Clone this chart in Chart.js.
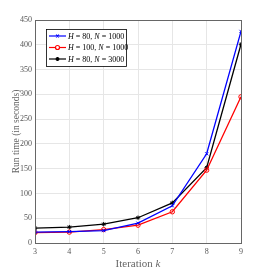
<!DOCTYPE html>
<html>
<head>
<meta charset="utf-8">
<script src="https://cdn.jsdelivr.net/npm/chart.js@4"></script>
<style>
  html, body { margin: 0; padding: 0; background: #fff; }
  #wrap { width: 266px; height: 273px; }
</style>
</head>
<body>
<div id="wrap"><canvas id="runtime-chart" width="266" height="273"></canvas></div>
<script>
// data //
const iterations = [3, 4, 5, 6, 7, 8, 9];
const runH80N1000 = [22, 23, 25, 40, 75, 180, 427];
const runH100N1000 = [21, 22, 27, 36, 63, 147, 295];
const runH80N3000 = [30, 32, 38, 51, 81, 152, 401];
const yTicks = [0, 50, 100, 150, 200, 250, 300, 350, 400, 450];

const seriesNames = [['H', ' = 80, ', 'N', ' = 1000'], ['H', ' = 100, ', 'N', ' = 1000'], ['H', ' = 80, ', 'N', ' = 3000']];
const seriesColors = ['#0000ff', '#ff0000', '#000000'];
const seriesMarkers = ['crossRot', 'circle', 'star'];

const serif = "'Liberation Serif', 'DejaVu Serif', serif";

function toPoints(values) {
  return values.map((v, i) => ({ x: iterations[i], y: v }));
}

// legend drawn inside the plot, with italic H and N
const boxLegend = {
  id: 'boxLegend',
  afterDraw(chart) {
    const ctx = chart.ctx;
    const x0 = 46, y0 = 29, w = 80, h = 37;
    ctx.save();
    ctx.fillStyle = '#fff';
    ctx.fillRect(x0, y0, w, h);
    ctx.strokeStyle = '#000';
    ctx.lineWidth = 0.8;
    ctx.strokeRect(x0 + 0.5, y0 + 0.5, w, h);
    seriesNames.forEach((parts, i) => {
      const y = y0 + 7 + i * 11.5;
      ctx.strokeStyle = seriesColors[i];
      ctx.lineWidth = 1.2;
      ctx.beginPath();
      ctx.moveTo(x0 + 3, y);
      ctx.lineTo(x0 + 20, y);
      ctx.stroke();
      ctx.fillStyle = i === 1 ? '#fff' : seriesColors[i];
      Chart.helpers.drawPoint(ctx, { pointStyle: seriesMarkers[i], radius: 2, borderWidth: 1 }, x0 + 11.5, y);
      let tx = x0 + 22;
      ctx.fillStyle = '#000';
      ctx.textBaseline = 'middle';
      parts.forEach((p, j) => {
        ctx.font = (j % 2 === 0 ? 'italic ' : '') + '8px ' + serif;
        ctx.fillText(p, tx, y + 0.5);
        tx += ctx.measureText(p).width;
      });
    });
    ctx.restore();
  }
};

// box border + axis titles
const frameAndTitles = {
  id: 'frameAndTitles',
  afterDraw(chart) {
    const ctx = chart.ctx;
    const a = chart.chartArea;
    ctx.save();
    ctx.strokeStyle = '#666';
    ctx.lineWidth = 1;
    ctx.strokeRect(Math.round(a.left) + 0.5, Math.round(a.top) + 0.5, Math.round(a.right - a.left), Math.round(a.bottom - a.top));
    ctx.fillStyle = '#666';
    ctx.textBaseline = 'middle';
    const t1 = 'Iteration ';
    ctx.font = 'italic 11px ' + serif;
    const kw = ctx.measureText('k').width;
    ctx.font = '11px ' + serif;
    const w1 = ctx.measureText(t1).width;
    const tx = (a.left + a.right) / 2 - (w1 + kw) / 2;
    ctx.fillText(t1, tx, 264);
    ctx.font = 'italic 11px ' + serif;
    ctx.fillText('k', tx + w1, 264);
    ctx.translate(16, (a.top + a.bottom) / 2);
    ctx.rotate(-Math.PI / 2);
    ctx.textAlign = 'center';
    ctx.font = '9.5px ' + serif;
    ctx.fillText('Run time (in seconds)', 0, 0);
    ctx.restore();
  }
};

function makeSet(label, values, i) {
  return {
    label: label,
    data: toPoints(values),
    borderColor: seriesColors[i],
    backgroundColor: i === 1 ? 'rgba(0,0,0,0)' : seriesColors[i],
    pointBorderColor: seriesColors[i],
    borderWidth: 1.3,
    pointStyle: seriesMarkers[i],
    pointRadius: 2.2,
    pointBorderWidth: 1,
    tension: 0
  };
}

new Chart(document.getElementById('runtime-chart'), {
  type: 'line',
  data: {
    datasets: [
      makeSet('H = 80, N = 1000', runH80N1000, 0),
      makeSet('H = 100, N = 1000', runH100N1000, 1),
      makeSet('H = 80, N = 3000', runH80N3000, 2)
    ]
  },
  options: {
    responsive: false,
    animation: false,
    layout: { padding: { top: 20, right: 25, left: 0, bottom: 0 } },
    plugins: { legend: { display: false }, tooltip: { enabled: false } },
    scales: {
      x: {
        type: 'linear',
        min: 3, max: 9,
        afterFit(scale) { scale.height = 30; },
        ticks: { stepSize: 1, color: '#555', font: { family: serif, size: 8 }, padding: 4 },
        grid: { color: '#e6e6e6', drawTicks: false },
        border: { display: false }
      },
      y: {
        min: 0, max: 450,
        afterFit(scale) { scale.width = 35; },
        afterBuildTicks(scale) { scale.ticks = yTicks.map(v => ({ value: v })); },
        ticks: { color: '#555', font: { family: serif, size: 8 }, padding: 3 },
        grid: { color: '#e6e6e6', drawTicks: false },
        border: { display: false }
      }
    }
  },
  plugins: [frameAndTitles, boxLegend]
});
</script>
</body>
</html>
